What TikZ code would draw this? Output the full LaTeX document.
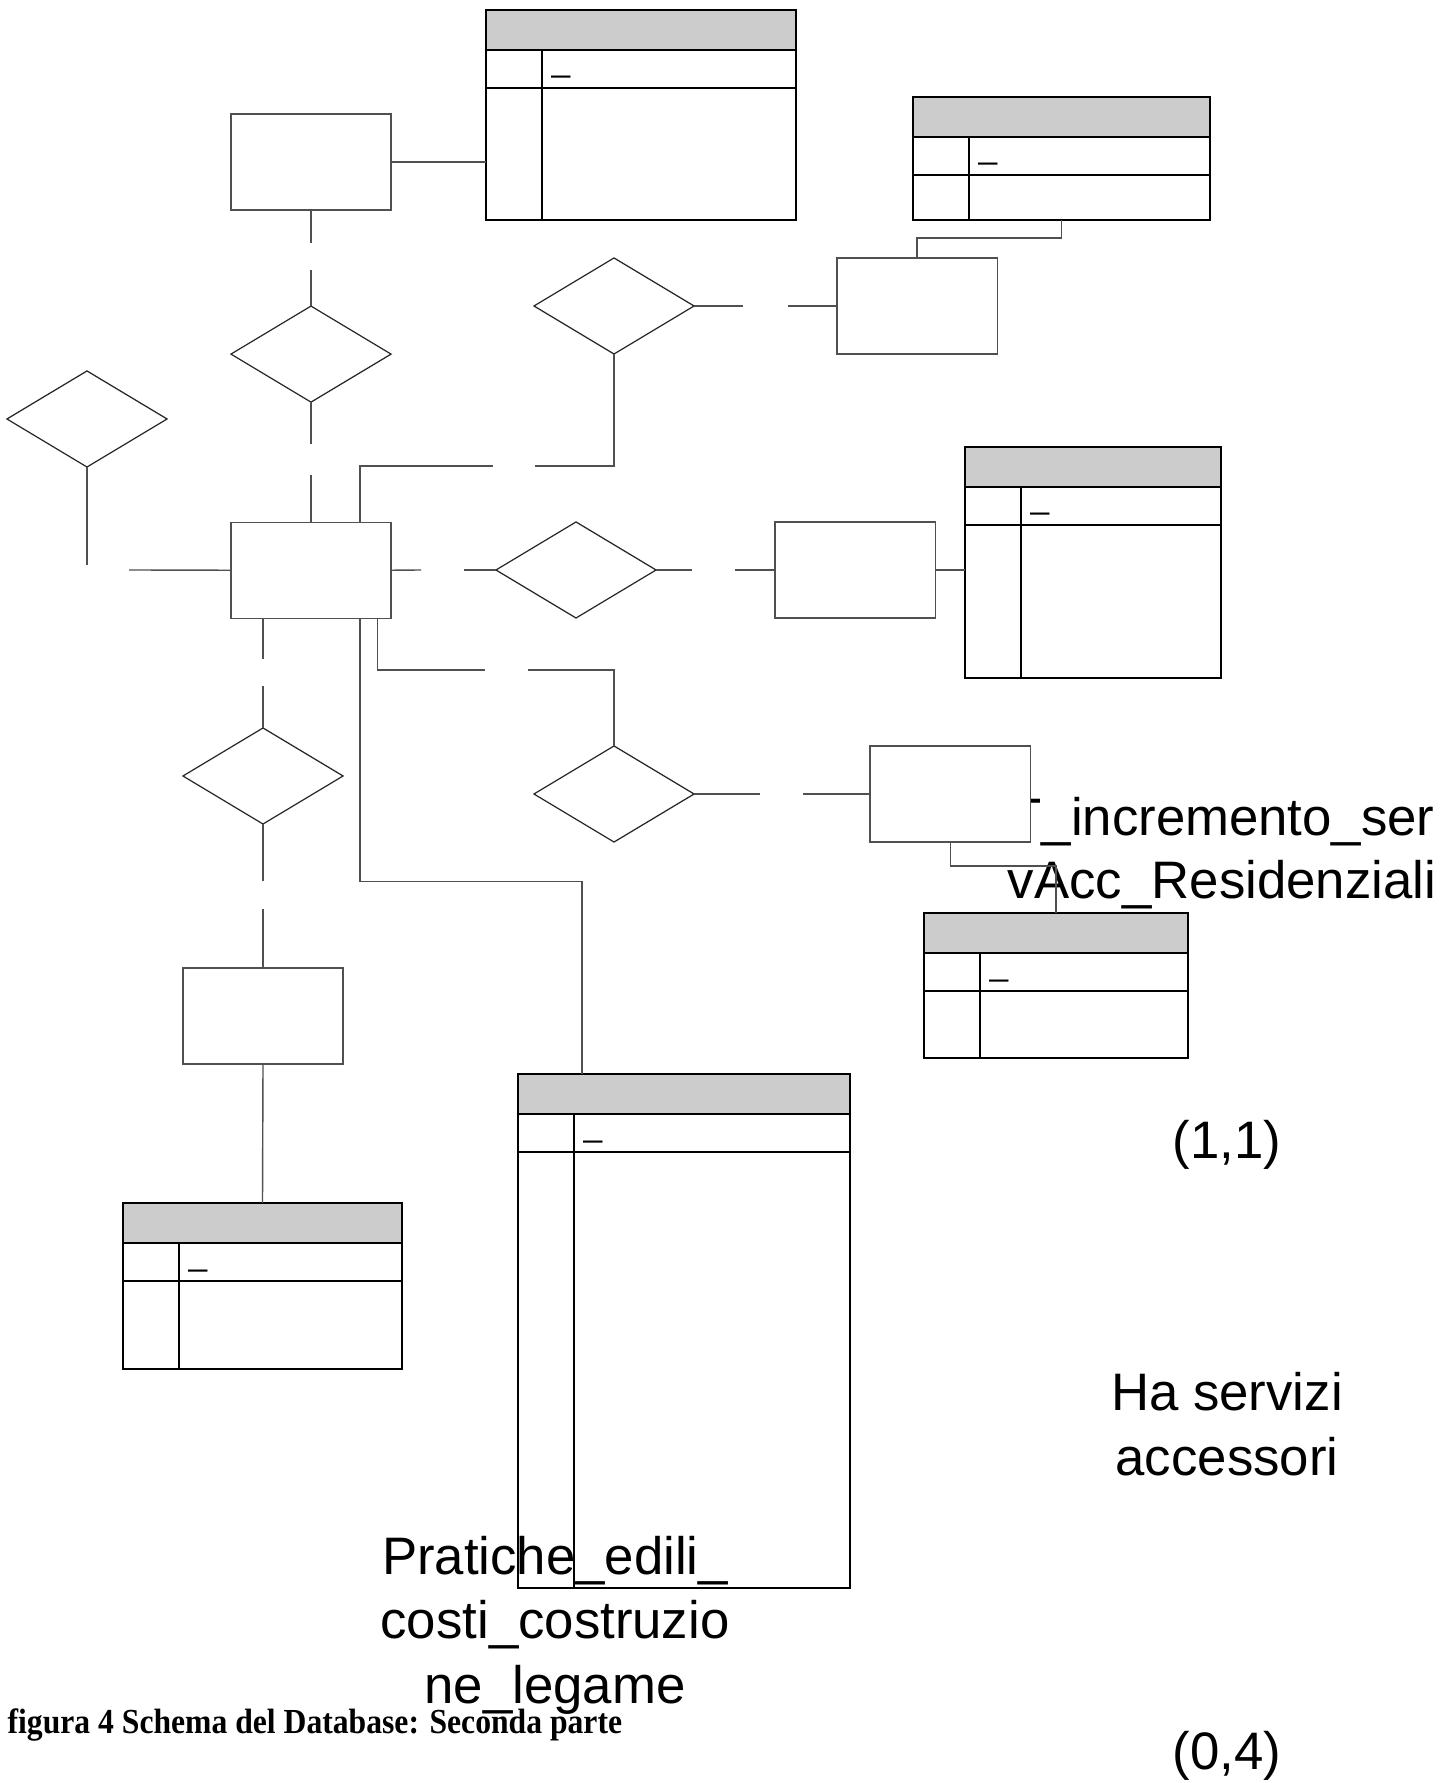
\documentclass[tikz,border=0pt]{standalone}
\usepackage{fontspec}
\setmainfont{Liberation Serif}
\setsansfont{Liberation Sans}
\usetikzlibrary{shapes.geometric, positioning}

\definecolor{headgray}{HTML}{CCCCCC}
\definecolor{linegray}{HTML}{505050}

% table: name, left, top, width, height
\newcommand{\erdtable}[5]{%
  \node[tablebox, anchor=north west, minimum width=#4*0.01cm, minimum height=#5*0.01cm] (#1) at (#2,#3) {};
  \draw[tableline, fill=headgray] (#2,#3) rectangle ({#2+#4},{#3+40});
  \draw[tableline] (#2,{#3+78}) -- ({#2+#4},{#3+78});
  \draw[tableline] ({#2+56},{#3+40}) -- ({#2+56},{#3+#5});
  \node[keymark] at ({#2+65},{#3+62}) {\_};
}

\begin{document}
\begin{tikzpicture}[x=0.01cm, y=-0.01cm,
    entity/.style={draw=linegray, line width=0.4pt, fill=white, minimum width=1.6cm, minimum height=0.96cm, inner sep=0, outer sep=0},
    relation/.style={diamond, draw=black!85, line width=0.35pt, minimum width=1.6cm, minimum height=0.96cm, inner sep=0, outer sep=0},
    tablebox/.style={draw=black, line width=0.65pt, inner sep=0, outer sep=0},
    tableline/.style={draw=black, line width=0.65pt},
    link/.style={draw=linegray, line width=0.4pt},
    keymark/.style={anchor=base west, inner sep=0, font=\sffamily\fontsize{9.5}{10}\selectfont},
    cardtext/.style={anchor=base, align=center, inner sep=0, font=\sffamily\fontsize{15}{18.3}\selectfont}]
  \useasboundingbox[fill=white] (0,0) rectangle (1440,1783);

  %%%%%%%%%%%%%%%%%%
  % tables
  \erdtable{tabTop}{486}{10}{310}{210}
  \erdtable{tabUpRight}{913}{97}{297}{123}
  \erdtable{tabRightMid}{965}{447}{256}{231}
  \erdtable{tabLowRight}{924}{913}{264}{145}
  \erdtable{tabLeftLow}{123}{1203}{279}{166}
  \erdtable{tabBig}{518}{1074}{332}{514}

  % label partly under the box
  \node[cardtext, font=\sffamily\fontsize{15}{17.8}\selectfont] (incrLabel) at (1222,898) {T\_incremento\_ser\\vAcc\_Residenziali};

  %%%%%%%%%%%%%%%%%%
  \node[entity] (entTop) at (311,162) {};
  \node[relation, below=0.96cm of entTop] (relTop) {};
  \node[entity, below=1.2cm of relTop] (entCenter) {};

  \node[relation] (relUp) at (614,306) {};
  \node[entity, right=1.43cm of relUp] (entUpRight) {};

  \node[relation] (relLeft) at (87,419) {};

  \node[relation] (relMid) at (576,570) {};
  \node[entity, right=1.19cm of relMid] (entRight) {};

  \node[relation] (relLow) at (614,794) {};
  \node[entity, right=1.76cm of relLow] (entLowRight) {};

  \node[relation] (relLeftLow) at (263,776) {};
  \node[entity, below=1.44cm of relLeftLow] (entLeftLow) {};

  %%%%%%%%%%%%%%%%%%
  % gap ends
  \coordinate (c1a) at (311,243);  \coordinate (c1b) at (311,270);
  \coordinate (c2a) at (311,444);  \coordinate (c2b) at (311,475);
  \coordinate (c3a) at (743,306);  \coordinate (c3b) at (788,306);
  \coordinate (c4a) at (493,466);  \coordinate (c4b) at (535,466);
  \coordinate (c5a) at (87,565);   \coordinate (c5b) at (129,570);
  \coordinate (c6a) at (421,570);  \coordinate (c6b) at (464,570);
  \coordinate (c7a) at (692,570);  \coordinate (c7b) at (735,570);
  \coordinate (c8a) at (485,670);  \coordinate (c8b) at (528,670);
  \coordinate (c9a) at (263,659);  \coordinate (c9b) at (263,686);
  \coordinate (c10a) at (263,881); \coordinate (c10b) at (263,909);
  \coordinate (c11a) at (760,794); \coordinate (c11b) at (803,794);

  %%%%%%%%%%%%%%%%%%
  \draw[link] (entTop.east) -- (entTop.east -| tabTop.west);
  \draw[link] (entTop.south) -- (c1a);
  \draw[link] (c1b) -- (relTop.north);
  \draw[link] (relTop.south) -- (c2a);
  \draw[link] (c2b) -- (entCenter.north);

  \draw[link] (relUp.east) -- (c3a);
  \draw[link] (c3b) -- (entUpRight.west);
  \draw[link] (tabUpRight.south) -- ++(0,18) -| (entUpRight.north);

  \draw[link] ([xshift=-0.31cm]entCenter.north east) |- (c4a);
  \draw[link] (c4b) -| (relUp.south);

  \draw[link] (relLeft.south) -- (c5a);
  \draw[link] (c5b) -- (entCenter.west);

  \draw[link] (entCenter.east) -- (c6a);
  \draw[link] (c6b) -- (relMid.west);
  \draw[link] (relMid.east) -- (c7a);
  \draw[link] (c7b) -- (entRight.west);
  \draw[link] (entRight.east) -- (entRight.east -| tabRightMid.west);

  \draw[link] ([xshift=-0.135cm]entCenter.south east) |- (c8a);
  \draw[link] (c8b) -| (relLow.north);
  \draw[link] (relLow.east) -- (c11a);
  \draw[link] (c11b) -- (entLowRight.west);
  \draw[link] (entLowRight.south) -- ++(0,24) -| (tabLowRight.north);

  \draw[link] ([xshift=-0.31cm]entCenter.south east) -- ++(0,263) -| ([xshift=0.64cm]tabBig.north west);

  \draw[link] (relLeftLow.north |- entCenter.south) -- (c9a);
  \draw[link] (c9b) -- (relLeftLow.north);
  \draw[link] (relLeftLow.south) -- (c10a);
  \draw[link] (c10b) -- (entLeftLow.north);
  \draw[link] (entLeftLow.south) -- (tabLeftLow.north);

  %%%%%%%%%%%%%%%%%%
  \node[cardtext] (oneOne) at (1227,1158) {(1,1)};
  \node[cardtext] (haServizi) at (1227,1475) {Ha servizi\\accessori};
  \node[cardtext] (zeroFour) at (1227,1769) {(0,4)};
  \node[cardtext] (pratiche) at (555,1703) {Pratiche\_edili\_\\costi\_costruzio\\ne\_legame};

  \node[anchor=base west, inner sep=0, xscale=0.9, transform shape, font=\rmfamily\bfseries\fontsize{10}{12}\selectfont] (caption) at (7,1733) {figura 4 Schema del Database: Seconda parte};
\end{tikzpicture}
\end{document}
